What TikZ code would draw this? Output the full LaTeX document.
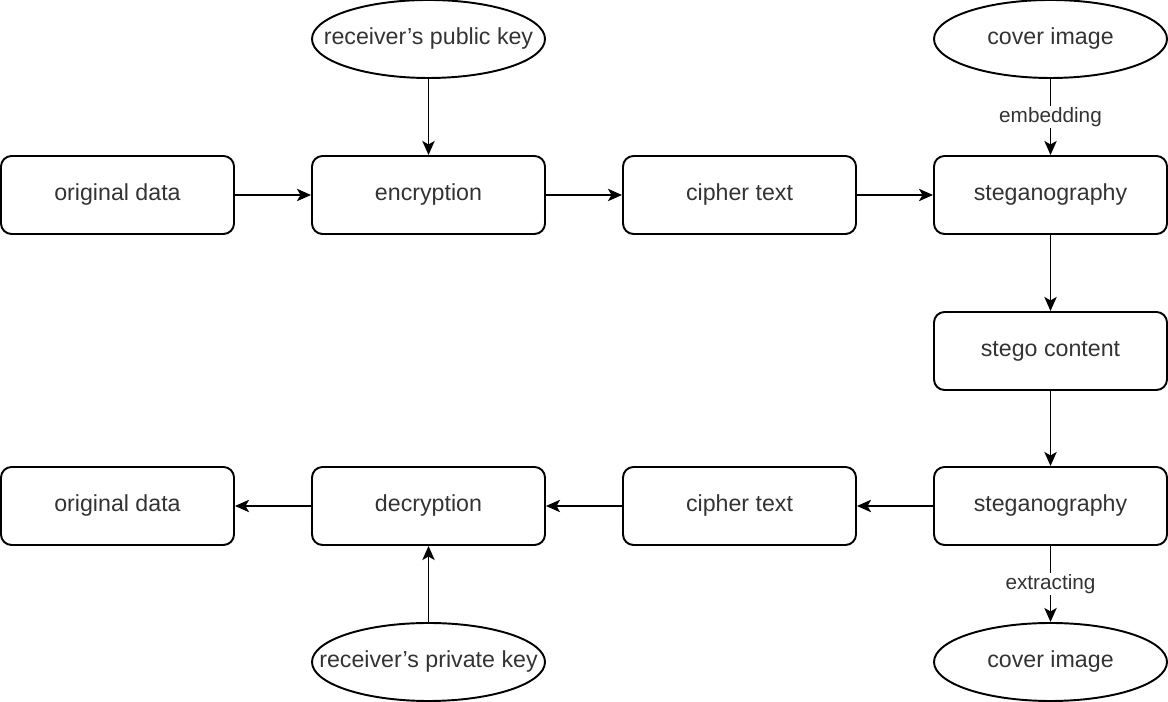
\documentclass[tikz,border=0pt]{standalone}
\usepackage{fontspec}
\setmainfont{Liberation Sans}
\usetikzlibrary{arrows.meta,shapes.geometric,positioning}

\tikzset{
  procbox/.style={draw,rounded corners=6pt,line width=1.1pt,text=black!80,
                  minimum width=4.66cm,minimum height=1.56cm,font=\fontsize{13.2}{15}\selectfont},
  keynode/.style={draw,ellipse,line width=1.1pt,text=black!80,inner xsep=-0.8cm,inner ysep=0pt,
                  minimum width=4.66cm,minimum height=1.56cm,font=\fontsize{13.2}{15}\selectfont},
  flow/.style={-{Stealth[length=8pt,width=7pt,inset=2pt]},line width=1.1pt},
  flowlbl/.style={fill=white,text=black!80,font=\fontsize{11.8}{14}\selectfont,inner sep=1pt}
}

\begin{document}
\begin{tikzpicture}
  \useasboundingbox (0,0) rectangle (23.36,14.04);

  % ── upper row ─────────────────────────────────────────
  \node[procbox] (orig1)  at (2.35,10.14) {original data};
  \node[procbox] (encr)   at (8.57,10.14) {encryption};
  \node[procbox] (ciph1)  at (14.79,10.14) {cipher text};
  \node[procbox] (steg1)  at (21.01,10.14) {steganography};
  \node[keynode] (pubkey) at (8.57,13.26) {receiver's public key};
  \node[keynode] (cover1) at (21.01,13.26) {cover image};

  % ── middle ────────────────────────────────────────────
  \node[procbox] (stego)  at (21.01,7.02) {stego content};

  % ── lower row ─────────────────────────────────────────
  \node[procbox] (orig2)  at (2.35,3.92) {original data};
  \node[procbox] (decr)   at (8.57,3.92) {decryption};
  \node[procbox] (ciph2)  at (14.79,3.92) {cipher text};
  \node[procbox] (steg2)  at (21.01,3.92) {steganography};
  \node[keynode] (privkey) at (8.57,0.80) {receiver's private key};
  \node[keynode] (cover2) at (21.01,0.80) {cover image};

  % Connectors
  \draw[flow] (orig1) -- (encr);
  \draw[flow] (encr) -- (ciph1);
  \draw[flow] (ciph1) -- (steg1);
  \draw[flow] (pubkey) -- (encr);
  \draw[flow] (cover1) -- node[flowlbl]{embedding} (steg1);
  \draw[flow] (steg1) -- (stego);
  \draw[flow] (stego) -- (steg2);
  \draw[flow] (steg2) -- (ciph2);
  \draw[flow] (ciph2) -- (decr);
  \draw[flow] (decr) -- (orig2);
  \draw[flow] (privkey) -- (decr);
  \draw[flow] (steg2) -- node[flowlbl]{extracting} (cover2);

\end{tikzpicture}
\end{document}
